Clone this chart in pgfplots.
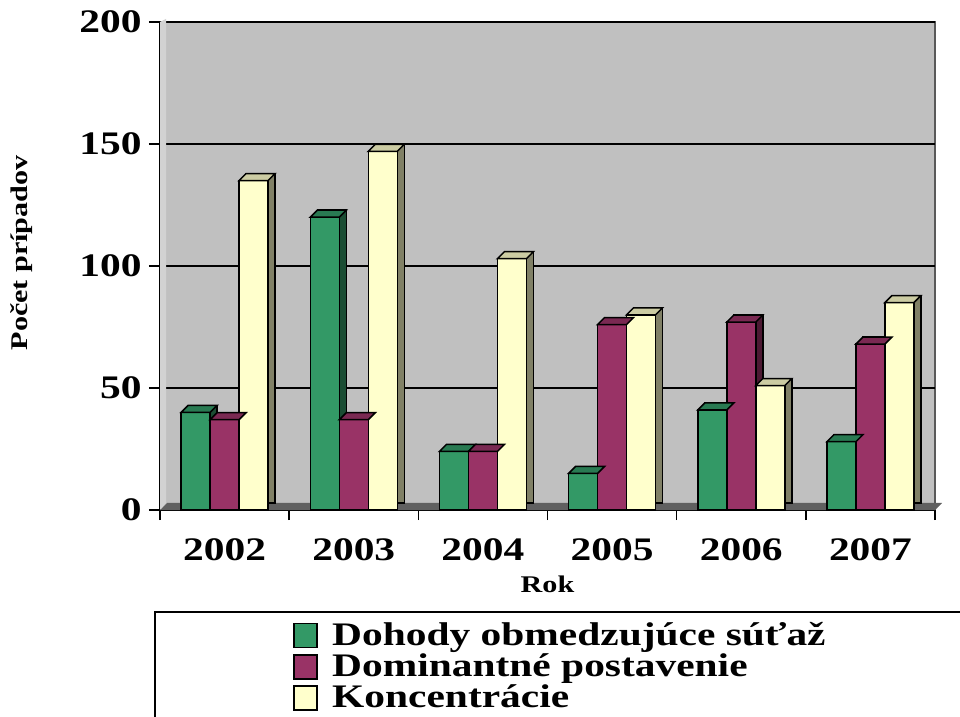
\documentclass[border=0pt]{standalone}
\usepackage{fontspec}
\setmainfont{Liberation Serif}[FakeStretch=1.26]
\usepackage{pgfplots}
\usepackage{pgfplotstable}
\pgfplotsset{compat=1.18}

\definecolor{cgreen}{HTML}{339966}
\definecolor{cgreenT}{HTML}{297A52}
\definecolor{cgreenD}{HTML}{1A4D33}
\definecolor{cmag}{HTML}{993366}
\definecolor{cmagT}{HTML}{7A2952}
\definecolor{cmagD}{HTML}{4D1A33}
\definecolor{cyel}{HTML}{FFFFCC}
\definecolor{cyelT}{HTML}{CCCCA3}
\definecolor{cyelD}{HTML}{808066}
\definecolor{wall}{HTML}{C0C0C0}

% horna plocha stlpca
\pgfdeclareplotmark{topface}{%
  \pgfpathmoveto{\pgfpoint{-14.5bp}{0bp}}%
  \pgfpathlineto{\pgfpoint{14.5bp}{0bp}}%
  \pgfpathlineto{\pgfpoint{21.5bp}{7bp}}%
  \pgfpathlineto{\pgfpoint{-7.5bp}{7bp}}%
  \pgfpathclose
  \pgfusepathqfillstroke}

% pocet pripadov podla roku
\pgfplotstableread{
x dohody dominant konc
0 40  37  135
1 120 37  147
2 24  24  103
3 15  76  80
4 41  77  51
5 28  68  85
}\data

\begin{document}
\begin{tikzpicture}
\begin{axis}[
    at={(160bp,207bp)}, anchor=south west,
    width=775bp, height=488bp, scale only axis,
    xmin=-0.5, xmax=5.5, ymin=0, ymax=200,
    clip=false,
    axis x line*=bottom, axis y line*=left,
    axis line style={black, line width=1.5bp},
    axis background/.style={fill=wall, draw=gray!70!black, line width=1.5bp},
    xtick={0,...,5},
    xticklabels={2002,2003,2004,2005,2006,2007},
    minor xtick={-0.5,0.5,...,5.5},
    major x tick style={draw=none},
    ytick={0,50,...,200},
    tick align=outside,
    major tick length=11bp, minor tick length=10bp,
    tick style={black, line width=1.5bp},
    ymajorgrids, grid style={black, line width=1.5bp},
    /pgf/number format/assume math mode=true,
    tick label style={font=\fontsize{33}{33}\selectfont\bfseries},
    yticklabel style={xshift=-4bp},
    xticklabel style={yshift=-14bp},
    xlabel={Rok}, ylabel={Počet prípadov},
    every axis x label/.style={at={(axis description cs:0.5,-0.152)}, anchor=center,
        font=\fontsize{24}{24}\selectfont\bfseries},
    every axis y label/.style={at={(axis description cs:-0.178,0.527)}, anchor=center, rotate=90,
        font=\fontsize{24}{24}\selectfont\bfseries},
    legend style={at={(axis description cs:0.172,-0.225)}, anchor=north west,
        draw=none, fill=none, row sep=3bp, inner sep=0pt,
        font=\fontsize{33}{30}\selectfont\bfseries},
    legend cell align=left,
    legend image code/.code={\draw[#1, line width=1.5bp] (0bp,-13bp) rectangle (23bp,11bp);
        \path[draw=none, fill=none] (0bp,0bp) -- (36bp,0bp);},
]
% podlaha a bocna stena
\fill[gray!75!black] (rel axis cs:0,0) -- (rel axis cs:1,0) -- ([shift={(7bp,7bp)}]rel axis cs:1,0) -- ([shift={(7bp,7bp)}]rel axis cs:0,0) -- cycle;
\fill[gray!35] (rel axis cs:0,0) -- ([shift={(6bp,7bp)}]rel axis cs:0,0) -- ([shift={(6bp,3bp)}]rel axis cs:0,1) -- (rel axis cs:0,1) -- cycle;

\addplot[ybar, bar width=29bp, bar shift=-22bp, yshift=7bp, fill=cgreenD, draw=black, line width=1.5bp, forget plot] table[x=x,y=dohody]{\data};
\addplot[ybar, bar width=29bp, bar shift=-29bp, fill=cgreen, draw=black, line width=1.5bp] table[x=x,y=dohody]{\data};
\addplot[only marks, mark=topface, mark options={fill=cgreenT, draw=black, line width=1.5bp}, forget plot] table[x expr=\thisrow{x}-0.2245, y=dohody]{\data};

\addplot[ybar, bar width=29bp, bar shift=7bp, yshift=7bp, fill=cmagD, draw=black, line width=1.5bp, forget plot] table[x=x,y=dominant]{\data};
\addplot[ybar, bar width=29bp, bar shift=0bp, fill=cmag, draw=black, line width=1.5bp] table[x=x,y=dominant]{\data};
\addplot[only marks, mark=topface, mark options={fill=cmagT, draw=black, line width=1.5bp}, forget plot] table[x=x, y=dominant]{\data};

\addplot[ybar, bar width=29bp, bar shift=36bp, yshift=7bp, fill=cyelD, draw=black, line width=1.5bp, forget plot] table[x=x,y=konc]{\data};
\addplot[ybar, bar width=29bp, bar shift=29bp, fill=cyel, draw=black, line width=1.5bp] table[x=x,y=konc]{\data};
\addplot[only marks, mark=topface, mark options={fill=cyelT, draw=black, line width=1.5bp}, forget plot] table[x expr=\thisrow{x}+0.2245, y=konc]{\data};
\legend{Dohody obmedzujúce súťaž, Dominantné postavenie, Koncentrácie}
\end{axis}
\draw[line width=2bp] (155bp,105bp) rectangle (985bp,-20bp);
\pgfresetboundingbox
\useasboundingbox (0,0) rectangle (960bp,717bp);
\end{tikzpicture}
\end{document}
